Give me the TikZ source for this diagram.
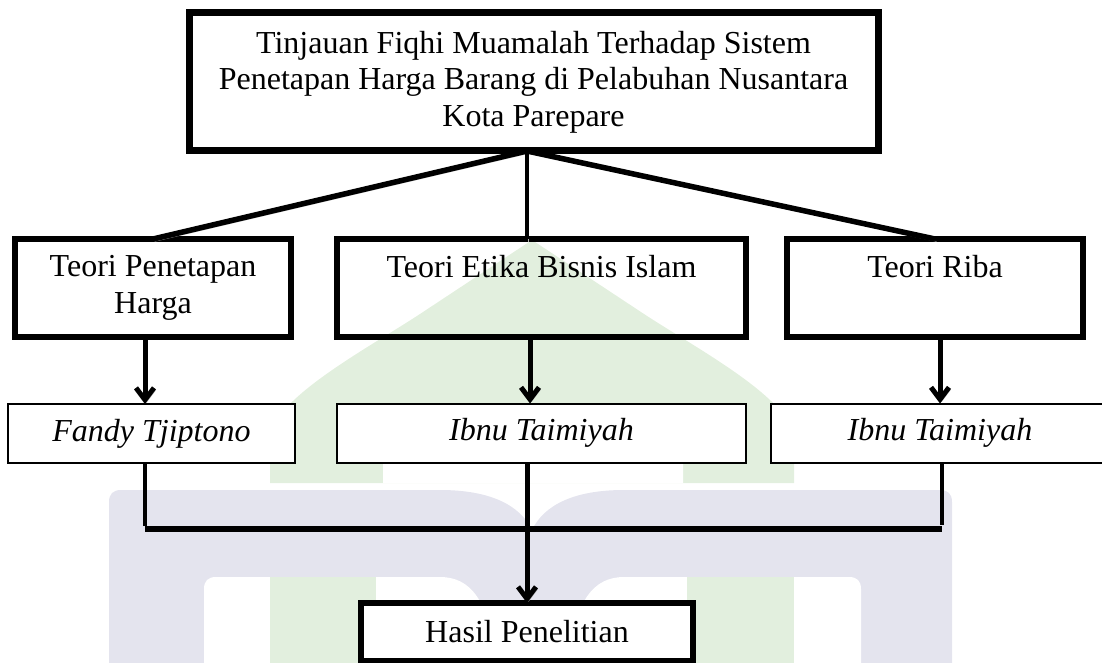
\documentclass[tikz,border=0pt]{standalone}
\usepackage{fontspec}
\setmainfont{Liberation Serif}
\usetikzlibrary{arrows.meta}
\definecolor{wmgreen}{RGB}{226,239,222}
\definecolor{wmlav}{RGB}{228,228,238}
\begin{document}
\begin{tikzpicture}[x=1pt,y=-1pt,
  every node/.style={font=\fontsize{32}{36.5}\selectfont, inner sep=0pt, outer sep=0pt, align=center},
  topbox/.style={draw, line width=7pt, minimum width=689pt, minimum height=138pt},
  midbox/.style={draw, line width=5.5pt, minimum width=276pt, minimum height=98pt},
  lowbox/.style={draw, fill=white, line width=2pt, minimum width=287pt, minimum height=59pt},
  resbox/.style={draw, fill=white, line width=6pt, minimum width=332pt, minimum height=58pt},
  shadowed/.style={preaction={draw=black!30, transform canvas={shift={(1.5pt,-2.5pt)}}}},
  conn/.style={shadowed, line width=5.5pt},
  stem/.style={shadowed, line width=4.5pt},
  arr/.style={shadowed, line width=5pt, -{Straight Barb[length=12pt,width=18pt]}},
  joinline/.style={line width=4.5pt},
  hline/.style={line width=6pt}
]
\useasboundingbox (0,0) rectangle (1102,663);
% watermark
\fill[wmgreen] (270,483) -- (270,440) .. controls (270,400) and (365,350) .. (420,314)
  -- (532,240) -- (644,314) .. controls (699,350) and (794,400) .. (794,440) -- (794,483) -- cycle;
\fill[white] (383,483) -- (383,450) .. controls (383,430) and (470,415) .. (532,410)
  .. controls (594,415) and (683,430) .. (683,450) -- (683,483) -- cycle;
\fill[wmlav] (109,663) -- (109,502) .. controls (109,494) and (113,490) .. (121,490) -- (440,490)
  .. controls (490,490) and (520,505) .. (532,530) .. controls (544,505) and (574,490) .. (624,490)
  -- (940,490) .. controls (948,490) and (952,494) .. (952,502) -- (952,663) -- cycle;
\fill[white] (204,663) -- (204,589) .. controls (204,581) and (208,577) .. (216,577) -- (440,577)
  .. controls (470,577) and (490,600) .. (495,663) -- cycle;
\fill[white] (861,663) -- (861,589) .. controls (861,581) and (857,577) .. (849,577) -- (624,577)
  .. controls (594,577) and (574,600) .. (569,663) -- cycle;
\fill[wmgreen] (270,577) rectangle (376,663);
\fill[wmgreen] (687,577) rectangle (794,663);
% boxes
\node[topbox] (top) at (533.5,82) {Tinjauan Fiqhi Muamalah Terhadap Sistem\\Penetapan Harga Barang di Pelabuhan Nusantara\\Kota Parepare};
\node[midbox] (b1) at (153,288) {Teori Penetapan\\Harga};
\node[midbox, minimum width=409pt] (b2) at (541.5,288) {Teori Etika Bisnis Islam\\\vphantom{g}};
\node[midbox, minimum width=296pt] (b3) at (935,288) {Teori Riba\\\vphantom{g}};
\node[lowbox] (b4) at (151.5,433.5) {\itshape Fandy Tjiptono};
\node[lowbox, minimum width=409pt] (b5) at (541.5,433) {\itshape Ibnu Taimiyah};
\node[lowbox, minimum width=338pt] (b6) at (940,433) {\itshape Ibnu Taimiyah};
\node[resbox] (res) at (527,632) {Hasil Penelitian};
% connectors
\coordinate (apex) at ([xshift=-6.5pt]top.south);
\draw[conn] (apex) -- (b1.north);
\draw[stem] (apex) -- (apex |- b2.north);
\draw[conn] (apex) -- (b3.north);
\draw[arr] ([xshift=-8pt]b1.south) -- ([xshift=-6.5pt]b4.north);
\draw[arr] ([xshift=-11.5pt]b2.south) -- ([xshift=-11.5pt]b5.north);
\draw[arr] ([xshift=5pt]b3.south) -- (b6.north);
\coordinate (jl) at (145,529);
\coordinate (jr) at (942,529);
\draw[joinline] ([xshift=-6.5pt]b4.south) -- ([yshift=3pt]jl);
\draw[joinline] ([xshift=2pt]b6.south) -- ([yshift=4pt]jr);
\draw[hline] (jl) -- (jr);
\draw[arr] ([xshift=-14.5pt]b5.south) -- (res.north);
\end{tikzpicture}
\end{document}
